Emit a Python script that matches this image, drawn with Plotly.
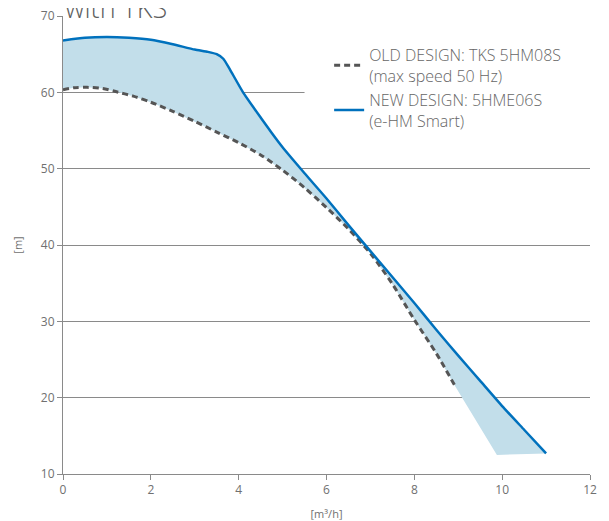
import plotly.graph_objects as go

# ---- data ----
new_x = [0, 0.5, 1.0, 1.5, 2.0, 2.5, 3.0, 3.3, 3.5, 3.65, 3.8, 4.1, 4.5, 4.75,
         5.0, 5.5, 6.0, 6.5, 7.0, 7.5, 8.0, 8.5, 9.0, 9.5, 10.0, 10.5, 11.0]
new_y = [66.8, 67.15, 67.25, 67.15, 66.9, 66.3, 65.6, 65.3, 65.0, 64.4, 63.0, 60.0, 56.7, 54.7,
         52.8, 49.4, 46.1, 42.6, 39.2, 35.8, 32.4, 28.9, 25.5, 22.2, 18.9, 15.8, 12.7]

old_x = [0, 0.25, 0.55, 0.9, 1.2, 1.6, 2.0, 2.5, 3.0, 3.5, 4.0, 4.5, 5.0,
         5.5, 6.0, 6.5, 7.0, 7.5, 8.0, 8.5, 8.93]
old_y = [60.35, 60.6, 60.65, 60.5, 60.1, 59.5, 58.7, 57.5, 56.2, 54.8, 53.4, 51.8, 49.8,
         47.5, 44.9, 42.1, 38.9, 34.9, 30.2, 25.8, 21.5]

fill_edge_x = [9.88]
fill_edge_y = [12.5]

x_ticks = [0, 2, 4, 6, 8, 10, 12]
y_ticks = [10, 20, 30, 40, 50, 60, 70]

old_name = "OLD DESIGN: TKS 5HM08S<br>(max speed 50 Hz)"
new_name = "NEW DESIGN: 5HME06S<br>(e-HM Smart)"
title_text = "with TKS"

FONT = "Open Sans"
GRAY = "#707070"
GRID = "#8a8a8a"
BLUE = "#0071bd"
FILL = "#c2deea"
DASH = "#555555"

poly_x = new_x + fill_edge_x + old_x[::-1]
poly_y = new_y + fill_edge_y + old_y[::-1]

fig = go.Figure()
fig.add_trace(go.Scatter(
    x=poly_x, y=poly_y, mode="lines", fill="toself", fillcolor=FILL,
    line=dict(width=0, color=FILL),
    showlegend=False, hoverinfo="skip"))
fig.add_trace(go.Scatter(
    x=old_x, y=old_y, mode="lines", name=old_name, legendgroup="a",
    line=dict(color=DASH, width=3, dash="6px,4px", shape="spline", smoothing=0.8)))
fig.add_trace(go.Scatter(
    x=new_x, y=new_y, mode="lines", name=new_name, legendgroup="b",
    line=dict(color=BLUE, width=2.5, shape="spline", smoothing=0.5)))

# white backing behind legend (covers the 60 gridline on the right)
fig.add_shape(type="rect", xref="x", yref="y", x0=5.5, x1=12, y0=56, y1=68,
              fillcolor="white", line=dict(width=0), layer="between")

fig.add_annotation(text=title_text, xref="paper", yref="paper", x=0, y=1,
                   xanchor="left", yanchor="bottom", yshift=-12, showarrow=False,
                   font=dict(family=FONT, size=27, color="#5f5f5f", weight=300))

fig.update_layout(
    width=601, height=513,
    margin=dict(l=55, r=19, t=8, b=47),
    paper_bgcolor="white", plot_bgcolor="white",
    font=dict(family=FONT, color=GRAY, size=12),
    legend=dict(x=0.505, y=0.952, xanchor="left", yanchor="top",
                bgcolor="rgba(0,0,0,0)",
                font=dict(family=FONT, size=16, color="#666666", weight=300),
                traceorder="grouped", tracegroupgap=0),
    xaxis=dict(range=[0, 12], tickvals=x_ticks, showgrid=False, zeroline=False,
               showline=True, linecolor=GRID, linewidth=1, ticks="outside",
               ticklen=5, tickcolor=GRID, tickfont=dict(size=12, color=GRAY),
               automargin=False, ticklabeloverflow="allow",
               title=dict(text="[m³/h]", font=dict(size=11, color=GRAY), standoff=13)),
    yaxis=dict(range=[10, 70], tickvals=y_ticks, showgrid=True, gridcolor=GRID,
               gridwidth=1, zeroline=False, showline=True, linecolor=GRID, linewidth=1,
               ticks="outside", ticklen=5, tickcolor=GRID, automargin=False,
               ticklabeloverflow="allow",
               tickfont=dict(size=12, color=GRAY),
               title=dict(text="[m]", font=dict(size=11, color=GRAY), standoff=16)),
)

fig.write_html("out.html")
